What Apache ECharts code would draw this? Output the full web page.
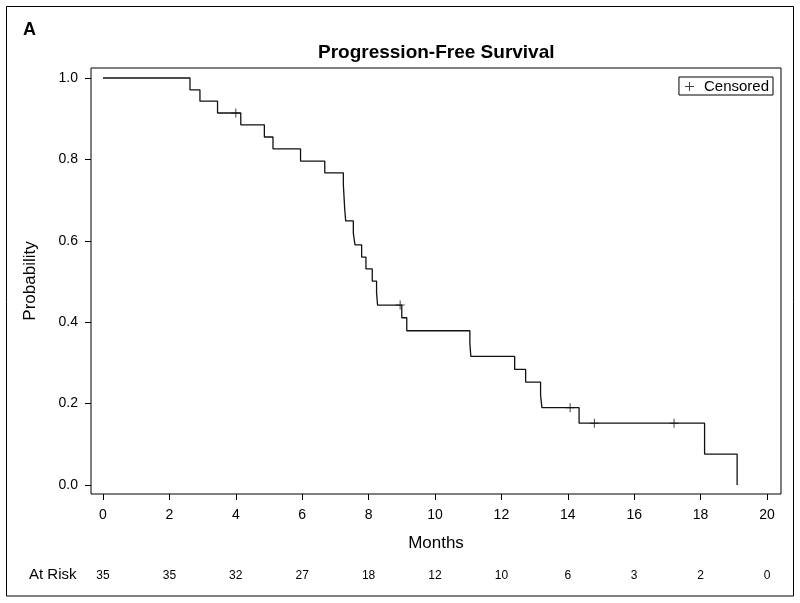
<!DOCTYPE html>
<html>
<head>
<meta charset="utf-8">
<script src="https://cdn.jsdelivr.net/npm/echarts@6/dist/echarts.min.js"></script>
<style>html,body{margin:0;padding:0;background:#fff}#c{width:800px;height:603px}</style>
</head>
<body>
<div id="c"></div>
<script>
// Kaplan-Meier step points (time in months, survival probability)
const stepTimes = [0, 2.62, 2.92, 3.45, 4.15, 4.86, 5.12, 5.95, 6.68, 7.24, 7.26, 7.28, 7.31, 7.54, 7.59, 7.79, 7.92, 8.11, 8.24, 8.27, 9.0, 9.15, 11.05, 11.08, 12.4, 12.73, 13.18, 13.22, 14.34, 18.12, 19.1];
const stepSurv  = [1.0, 0.971, 0.943, 0.914, 0.885, 0.855, 0.826, 0.796, 0.767, 0.737, 0.708, 0.678, 0.649, 0.619, 0.590, 0.560, 0.531, 0.501, 0.472, 0.442, 0.411, 0.379, 0.348, 0.316, 0.284, 0.253, 0.221, 0.190, 0.152, 0.076, 0.0];
// Censored observations
const censorTimes = [4.0, 8.95, 14.07, 14.8, 17.2];
const censorSurv  = [0.914, 0.442, 0.190, 0.152, 0.152];
// Axis ticks
const xTicks = [0, 2, 4, 6, 8, 10, 12, 14, 16, 18, 20];
const yTicks = [0, 0.2, 0.4, 0.6, 0.8, 1.0];
// Number at risk at each x tick
const riskCounts = [35, 35, 32, 27, 18, 12, 10, 6, 3, 2, 0];

const FONT = "'Liberation Sans', Arial, sans-serif";
const plusPath = 'path://M4,0 h1 v9 h-1 z M0,4 h9 v1 h-9 z';

const chart = echarts.init(document.getElementById('c'), null, {renderer: 'canvas'});
chart.setOption({
  backgroundColor: '#fff',
  animation: false,
  textStyle: {fontFamily: FONT, color: '#000'},
  title: [
    {text: 'A', left: 23, top: 21, padding: 0, textStyle: {fontFamily: FONT, fontSize: 18, fontWeight: 'bold', color: '#000'}},
    {text: 'Progression-Free Survival', left: 318, top: 43, padding: 0, textStyle: {fontFamily: FONT, fontSize: 19, fontWeight: 'bold', color: '#000'}},
    {text: 'At Risk', left: 29, top: 567, padding: 0, textStyle: {fontFamily: FONT, fontSize: 15, fontWeight: 'normal', color: '#000'}}
  ],
  legend: {
    data: [{name: 'Censored', icon: plusPath}],
    right: 27, top: 77,
    itemWidth: 9, itemHeight: 9,
    padding: [2, 4, 1, 6],
    borderColor: '#000', borderWidth: 1, borderRadius: 0,
    textStyle: {fontFamily: FONT, fontSize: 15, color: '#000', padding: [0, 0, 0, 5]},
    selectedMode: false
  },
  graphic: [
    {type: 'rect', shape: {x: 6.5, y: 6.5, width: 787, height: 589.5}, style: {fill: 'none', stroke: '#000', lineWidth: 1}, silent: true}
  ],
  grid: {left: 91, right: 19, top: 68, bottom: 109, show: true, borderColor: '#000', borderWidth: 1, backgroundColor: 'transparent'},
  xAxis: [
    {
      type: 'value', min: -0.3614, max: 20.4217, position: 'bottom',
      name: 'Months', nameLocation: 'middle', nameGap: 41,
      nameTextStyle: {fontFamily: FONT, fontSize: 17, color: '#000'},
      axisLine: {show: false, onZero: false},
      axisTick: {show: true, inside: false, length: 6, customValues: xTicks, lineStyle: {color: '#000', width: 1}},
      axisLabel: {fontFamily: FONT, fontSize: 14, color: '#000', margin: 14, customValues: xTicks},
      splitLine: {show: false}
    },
    {
      type: 'value', min: -0.3614, max: 20.4217, offset: 68, position: 'bottom',
      axisLine: {show: false, onZero: false}, axisTick: {show: false}, splitLine: {show: false},
      axisLabel: {
        fontFamily: FONT, fontSize: 12, color: '#000', margin: 8, customValues: xTicks,
        formatter: v => { const i = xTicks.indexOf(v); return i >= 0 ? String(riskCounts[i]) : ''; }
      }
    }
  ],
  yAxis: {
    type: 'value', min: -0.0221, max: 1.02457, position: 'left',
    name: 'Probability', nameLocation: 'middle', nameGap: 52, nameRotate: 90,
    nameTextStyle: {fontFamily: FONT, fontSize: 17, color: '#000'},
    axisLine: {show: false, onZero: false},
    axisTick: {show: true, inside: false, length: 6, customValues: yTicks, lineStyle: {color: '#000', width: 1}},
    axisLabel: {fontFamily: FONT, fontSize: 14, color: '#000', margin: 13, customValues: yTicks, formatter: v => v.toFixed(1)},
    splitLine: {show: false}
  },
  series: [
    {
      name: 'KM', type: 'line', step: 'end', xAxisIndex: 0, yAxisIndex: 0,
      showSymbol: false, symbol: 'none',
      lineStyle: {color: '#111', width: 1.3},
      data: stepTimes.map((t, i) => [t, stepSurv[i]]),
      silent: true
    },
    {
      name: 'Censored', type: 'scatter', xAxisIndex: 0, yAxisIndex: 0,
      symbol: plusPath, symbolSize: [9, 9],
      itemStyle: {color: '#111'},
      data: censorTimes.map((t, i) => [t, censorSurv[i]]),
      silent: true
    }
  ]
});
</script>
</body>
</html>
